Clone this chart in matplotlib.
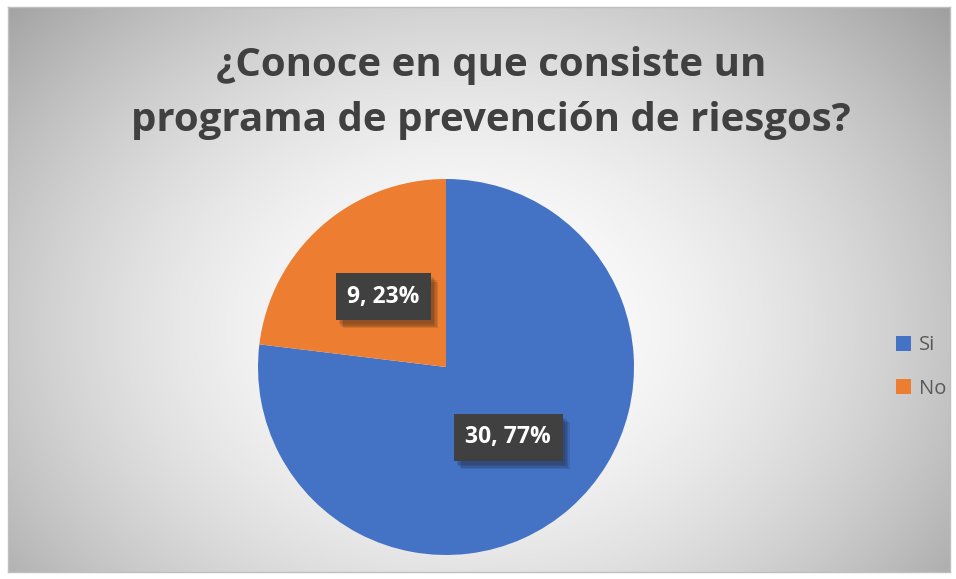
import numpy as np
import matplotlib.pyplot as plt
import matplotlib.patheffects as pe

categories = ['Si', 'No']
counts = [30, 9]
colors = ['#4472C4', '#ED7D31']
title = '¿Conoce en que consiste un\nprograma de prevención de riesgos?'

W, H = 956, 579
fig = plt.figure(figsize=(W / 100, H / 100), dpi=100)

# chart area with radial grey gradient (Excel style)
bg = fig.add_axes([8 / W, 7 / H, 942 / W, 565 / H])
yy, xx = np.mgrid[0:565, 0:942]
r = np.hypot((xx - 460) / 560, (yy - 320) / 430)
shade = np.clip(1 - 0.3 * r ** 1.8, 0, 1)
bg.imshow(np.dstack([shade] * 3), aspect='auto', extent=(0, 1, 0, 1))
bg.set_xticks([])
bg.set_yticks([])
for s in bg.spines.values():
    s.set_color('#bfbfbf')
    s.set_linewidth(1)

fig.text(491 / W, 1 - 93 / H, title, ha='center', va='center',
         fontsize=29, fontweight='bold', color='#404040',
         family='Open Sans', linespacing=1.55)

# pie
cx, cy, rad = 446, 367, 188
ax = fig.add_axes([(cx - rad) / W, (H - cy - rad) / H, 2 * rad / W, 2 * rad / H])
total = sum(counts)
wedges, texts, autotexts = ax.pie(
    counts, colors=colors, startangle=90, counterclock=False,
    autopct=lambda p: f'{round(p * total / 100)}, {p:.0f}%',
    pctdistance=0.5, wedgeprops=dict(linewidth=0))
ax.set_xlim(-1, 1)
ax.set_ylim(-1, 1)
ax.set_aspect('auto')

shadow = [pe.SimplePatchShadow(offset=(o, -o - 1), alpha=0.12)
          for o in (2, 3, 4, 5)]
for t in autotexts:
    t.set_color('white')
    t.set_fontsize(16.5)
    t.set_fontweight('bold')
    t.set_family('Open Sans')
    t.set_bbox(dict(boxstyle='square,pad=0.5', facecolor='#404040',
                    edgecolor='none'))
    t.get_bbox_patch().set_path_effects(shadow + [pe.Normal()])

leg = fig.legend(wedges, categories, loc='center left',
                 bbox_to_anchor=(878 / W, 1 - 367 / H), frameon=False,
                 handlelength=0.75, handleheight=0.75, handletextpad=0.4,
                 labelspacing=1.15, prop=dict(family='Open Sans', size=14.5))
for txt in leg.get_texts():
    txt.set_color('#595959')

fig.savefig('out.png', dpi=100, facecolor='white')
